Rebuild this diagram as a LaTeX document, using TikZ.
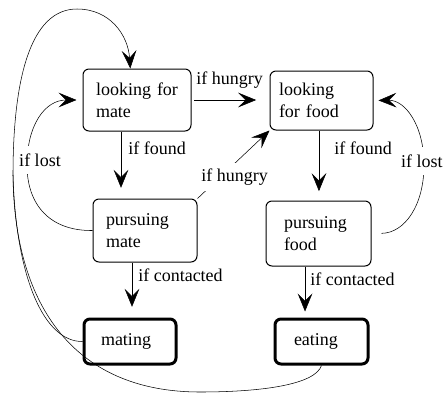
\documentclass[tikz,border=0pt]{standalone}
\usepackage{fontspec}
\setmainfont{Liberation Serif}
\usetikzlibrary{arrows.meta}

\begin{document}
\begin{tikzpicture}[x=0.75pt,y=0.75pt,yscale=-1,xscale=1,
    >={Stealth[length=13.5pt,width=11pt,inset=5.5pt]},
    statebox/.style={draw, line width=0.75pt, rounded corners=4.5pt, inner sep=0pt, align=left, text width=#1, font=\fontsize{13.5}{16.5}\selectfont},
    goalbox/.style={statebox=#1, line width=2.25pt},
    cond/.style={inner sep=0.75pt, font=\fontsize{13.5}{16.5}\selectfont}]
        \useasboundingbox (0,0) rectangle (444,394);

        %Shape: Rectangle [looking for mate]
        \node[statebox=61.5pt, minimum width=81pt, minimum height=46.5pt] (mate) at (137,100) {looking for\\mate};
        %Shape: Rectangle [looking for food]
        \node[statebox=63.75pt, minimum width=77.25pt, minimum height=44.25pt] (food) at (321.5,100.5) {looking\\for food};
        %Shape: Rectangle [pursuing mate]
        \node[statebox=58.5pt, minimum width=78pt, minimum height=47.25pt] (pmate) at (145,230.5) {pursuing\\mate};
        %Shape: Rectangle [pursuing food]
        \node[statebox=51.75pt, minimum width=78.75pt, minimum height=48.75pt] (pfood) at (318.5,233.5) {pursuing\\food};
        %Shape: Rectangle [mating]
        \node[goalbox=43.5pt, minimum width=69pt, minimum height=33.75pt] (mating) at (130,341.5) {mating};
        %Shape: Rectangle [eating]
        \node[goalbox=41.25pt, minimum width=69.75pt, minimum height=33.75pt] (eating) at (321.5,341.5) {eating};

        %Straight Lines
        \draw[->, shorten <=2pt, shorten >=10pt] (mate.east) -- (mate.east -| food.west);
        %Straight Lines
        \draw[->] (pmate.north east) -- (food.south west);
        %Straight Lines
        \draw[->, shorten >=8pt] ([xshift=-12pt]mate.south) -- ([xshift=-12pt]mate.south |- pmate.north);
        %Straight Lines
        \draw[->, shorten >=7pt] ([xshift=-1.9pt]food.south) -- ([xshift=-1.9pt]food.south |- pfood.north);
        %Straight Lines
        \draw[->, shorten >=8pt] ([xshift=-9.75pt]pmate.south) -- ([xshift=-9.75pt]pmate.south |- mating.north);
        %Straight Lines
        \draw[->, shorten >=4.5pt] ([xshift=-10.1pt]pfood.south) -- ([xshift=-10.1pt]pfood.south |- eating.north);

        %Curve Lines
        \draw[->, shorten >=4.5pt] (pmate.west) .. controls (50,231) and (27,205) .. (27,165) .. controls (27,125) and (45,100) .. (mate.west);
        %Curve Lines
        \draw[->, shorten <=7.5pt, shorten >=3.75pt] (pfood.east) .. controls (405,233) and (424,205) .. (424,165) .. controls (424,125) and (405,100) .. (food.east);
        %Curve Lines
        \coordinate (join) at (13,175);
        \draw[->] (eating.south) .. controls (315,385) and (260,392) .. (200,392) .. controls (70,392) and (14,300) .. (join) .. controls (13,80) and (30,9) .. (77,9) .. controls (110,9) and (128,35) .. ([xshift=-5pt]mate.north);
        \draw (mating.west) .. controls (45,342) and (16,280) .. (join);

        % Text Node
        \node[cond, anchor=west] (hungryA) at (195,80) {if hungry};
        \node[cond, anchor=west, fill=white, inner ysep=4pt] (hungryB) at (200,177) {if hungry};
        \node[cond, anchor=west] (foundA) at (127,148) {if found};
        \node[cond, anchor=west] (foundB) at (333,148) {if found};
        \node[cond, fill=white, inner ysep=6pt] (lostA) at (40,160) {if lost};
        \node[cond, anchor=east, fill=white, inner ysep=6pt] (lostB) at (444,161) {if lost};
        \node[cond, anchor=west] (contactA) at (137,275) {if contacted};
        \node[cond, anchor=west] (contactB) at (309,279) {if contacted};

\end{tikzpicture}
\end{document}
